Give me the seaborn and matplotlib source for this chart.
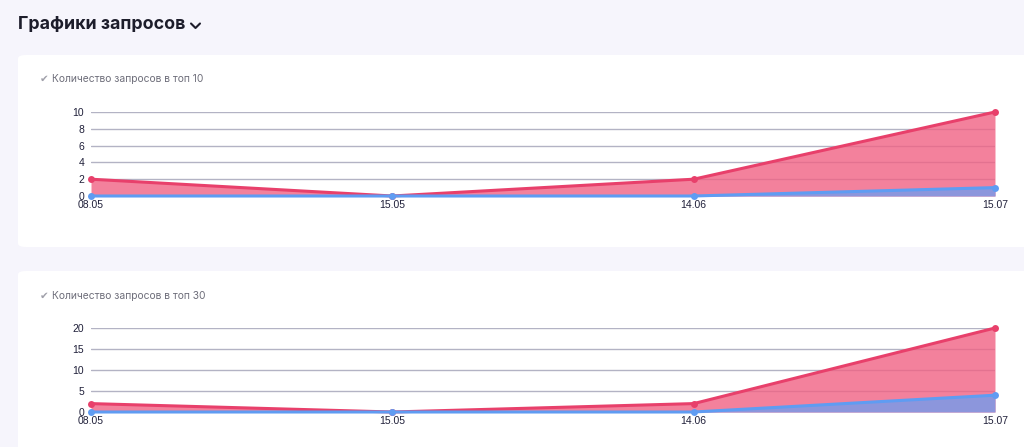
import numpy as np
import pandas as pd
from matplotlib import pyplot as plt
from matplotlib.patches import FancyBboxPatch
from matplotlib.lines import Line2D
import seaborn as sns

# Data
dates = ["08.05", "15.05", "14.06", "15.07"]
top10_red = [2, 0, 2, 10]
top10_blue = [0, 0, 0, 1]
top30_red = [2, 0, 2, 20]
top30_blue = [0, 0, 0, 4]

sns.set_theme(style="white")
plt.rcParams['font.family'] = ['Inter', 'DejaVu Sans']

RED = "#e8406b"
RED_FILL = "#f06284"
BLUE = "#5f9cf2"
BLUE_FILL = "#8c96dc"
GRID = "#b3b3c4"
BG = "#f6f5fc"

fig = plt.figure(figsize=(10.24, 4.47), dpi=100)
fig.patch.set_facecolor(BG)

W, H = 1024, 447


def card(y0, y1):
    fig.patches.append(FancyBboxPatch((18 / W, 1 - y1 / H), (1040 - 18) / W, (y1 - y0) / H,
                                      boxstyle="round,pad=0,rounding_size=0.008",
                                      transform=fig.transFigure, facecolor="white",
                                      edgecolor="none", zorder=-5))


card(55, 247)
card(271, 470)

fig.text(18 / W, 1 - 25 / H, "Графики запросов", fontsize=12.8, fontweight="bold",
         color="#1d1d2b", va="center", ha="left")
fig.lines.append(Line2D([191 / W, 195.5 / W, 200 / W], [1 - 23.5 / H, 1 - 28 / H, 1 - 23.5 / H],
                        transform=fig.transFigure, color="#1d1d2b", lw=1.5))


def panel(top_px, bottom_px, red, blue, ymax, ticks, label, label_y):
    ax = fig.add_axes([91 / W, 1 - bottom_px / H, 904 / W, (bottom_px - top_px) / H])
    ax.set_zorder(5)
    ax.set_facecolor("none")
    df = pd.DataFrame({"x": np.arange(len(dates)), "red": red, "blue": blue})
    ax.fill_between(df["x"], 0, df["red"], color=RED_FILL, alpha=0.8, lw=0, zorder=2)
    ax.fill_between(df["x"], 0, df["blue"], color=BLUE_FILL, alpha=1, lw=0, zorder=3)
    sns.lineplot(data=df, x="x", y="red", ax=ax, color=RED, lw=2.2, marker="o",
                 markersize=5, markeredgewidth=0, zorder=4, clip_on=False)
    sns.lineplot(data=df, x="x", y="blue", ax=ax, color=BLUE, lw=2.2, marker="o",
                 markersize=5, markeredgewidth=0, zorder=5, clip_on=False)
    ax.set_xlim(0, len(dates) - 1)
    ax.set_ylim(0, ymax)
    ax.set_yticks(ticks)
    ax.set_xticks(df["x"])
    ax.set_xticklabels(dates)
    for t in ticks:
        ax.axhline(t, color=GRID, lw=1, zorder=1)
    ax.tick_params(axis="both", length=0, labelsize=7.5, colors="#20203a", pad=5)
    ax.tick_params(axis="x", pad=3)
    for lbl in ax.get_xticklabels() + ax.get_yticklabels():
        lbl.set_family(["Liberation Sans", "DejaVu Sans"])
    ax.set_xlabel("")
    ax.set_ylabel("")
    for s in ax.spines.values():
        s.set_visible(False)
    fig.text(40 / W, 1 - label_y / H, "✔", fontsize=7.5, color="#a0a0aa", va="center",
             family=["DejaVu Sans"])
    fig.text(52 / W, 1 - label_y / H, label, fontsize=7.4, color="#6e6e7a", va="center")
    return ax


panel(112, 196, top10_red, top10_blue, 10, [0, 2, 4, 6, 8, 10],
      "Количество запросов в топ 10", 79)
panel(328, 412, top30_red, top30_blue, 20, [0, 5, 10, 15, 20],
      "Количество запросов в топ 30", 296)

plt.savefig("out.png", dpi=100, facecolor=fig.get_facecolor())
